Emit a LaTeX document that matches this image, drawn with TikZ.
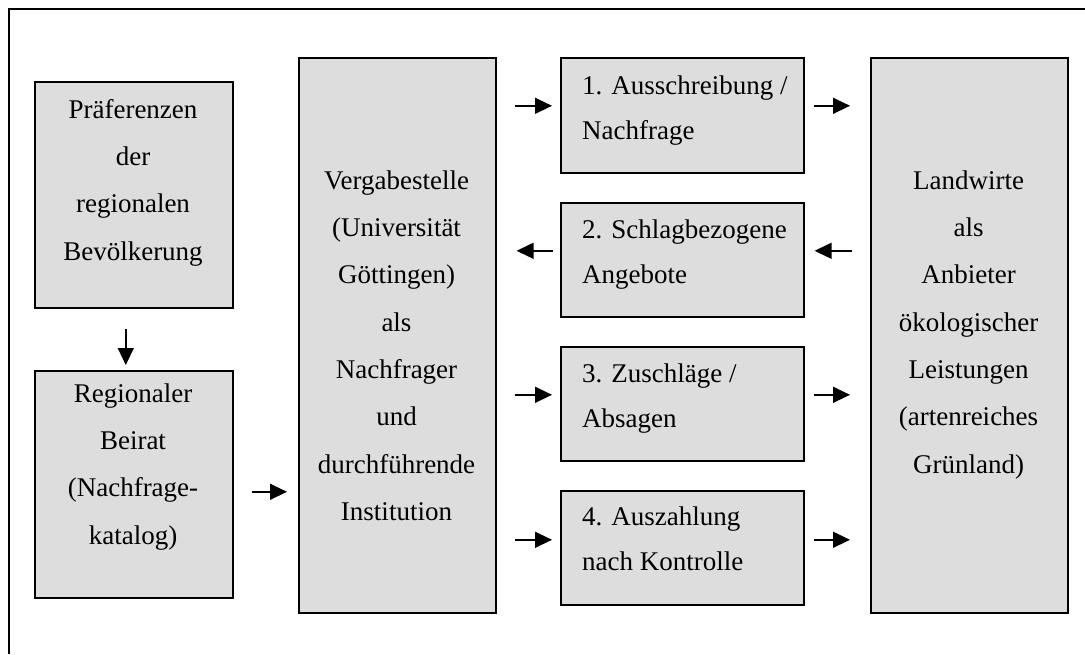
\documentclass[tikz,border=0pt]{standalone}
\usepackage{fontspec}
\setmainfont{Liberation Serif}
\usetikzlibrary{arrows.meta,calc}
\definecolor{boxgray}{HTML}{DDDDDD}
\begin{document}
\begin{tikzpicture}[x=1pt,y=-1pt,
  box/.style={draw=black,line width=1.6pt,fill=boxgray,rectangle,inner sep=0pt,anchor=north west},
  txt/.style={font=\fontsize{27}{47.3}\selectfont,align=center,inner sep=0pt,anchor=north},
  stxt/.style={font=\fontsize{27}{45.5}\selectfont,align=left,inner sep=0pt,anchor=north west},
  arr/.style={line width=1.4pt,-{Triangle[length=17pt,width=16pt]}},
  frame/.style={line width=1.5pt}]
\useasboundingbox (0,0) rectangle (1085,654);
% outer frame (top and left only)
\coordinate (fTL) at (9,9);
\coordinate (fTR) at (1085,9);
\coordinate (fBL) at (9,654);
\draw[frame] (fBL) -- (fTL) -- (fTR);
% boxes
\node[box,minimum width=198pt,minimum height=226pt] (A) at (34,81) {};
\node[box,minimum width=198pt,minimum height=227pt] (B) at (34,370) {};
\node[box,minimum width=197pt,minimum height=555pt] (C) at (298,57) {};
\node[box,minimum width=243pt,minimum height=115pt] (D1) at (560,57) {};
\node[box,minimum width=243pt,minimum height=114pt] (D2) at (560,202) {};
\node[box,minimum width=243pt,minimum height=114pt] (D3) at (560,346) {};
\node[box,minimum width=243pt,minimum height=114pt] (D4) at (560,490) {};
\node[box,minimum width=197pt,minimum height=555pt] (E) at (870,57) {};
% texts (first baseline = top + 20)
\node[txt] (tA) at (133,98) {\rule{0pt}{20pt}Präferenzen\\der\\regionalen\\Bevölkerung};
\node[txt] (tB) at (133,382) {\rule{0pt}{20pt}Regionaler\\Beirat\\(Nachfrage-\\katalog)};
\node[txt] (tC) at (396.5,169) {\rule{0pt}{20pt}Vergabestelle\\(Universität\\Göttingen)\\als\\Nachfrager\\und\\durchführende\\Institution};
\node[txt] (tE) at (968.5,169) {\rule{0pt}{20pt}Landwirte\\als\\Anbieter\\ökologischer\\Leistungen\\(artenreiches\\Grünland)};
\node[stxt] (t1) at (582,74) {\rule{0pt}{20pt}1. Ausschreibung /\\Nachfrage};
\node[stxt] (t2) at (582,218) {\rule{0pt}{20pt}2. Schlagbezogene\\Angebote};
\node[stxt] (t3) at (582,362) {\rule{0pt}{20pt}3. Zuschläge /\\Absagen};
\node[stxt] (t4) at (582,505) {\rule{0pt}{20pt}4. Auszahlung\\nach Kontrolle};
% arrow anchor points
\coordinate (ab) at ($(B.east)+(0,7.5)$);
\coordinate (a1) at ($(D1.west)+(0,-9.5)$);
\coordinate (a2) at ($(D2.west)+(0,-9)$);
\coordinate (a3) at ($(D3.west)+(0,-9)$);
\coordinate (a4) at ($(D4.west)+(0,-8)$);
\coordinate (b1) at ($(D1.east)+(0,-9.5)$);
\coordinate (b2) at ($(D2.east)+(0,-9)$);
\coordinate (b3) at ($(D3.east)+(0,-9)$);
\coordinate (b4) at ($(D4.east)+(0,-8)$);
% arrows
\draw[arr,shorten <=20pt,shorten >=5pt] ($(A.south)+(-8,0)$) -- ($(B.north)+(-8,0)$);
\draw[arr,shorten <=18pt,shorten >=11pt] (ab) -- (C.west |- ab);
\draw[arr,shorten <=18pt,shorten >=8pt] (C.east |- a1) -- (a1);
\draw[arr,shorten <=7pt,shorten >=20pt] (a2) -- (C.east |- a2);
\draw[arr,shorten <=18pt,shorten >=8pt] (C.east |- a3) -- (a3);
\draw[arr,shorten <=18pt,shorten >=8pt] (C.east |- a4) -- (a4);
\draw[arr,shorten <=9pt,shorten >=20pt] (b1) -- (E.west |- b1);
\draw[arr,shorten <=18pt,shorten >=10pt] (E.west |- b2) -- (b2);
\draw[arr,shorten <=9pt,shorten >=20pt] (b3) -- (E.west |- b3);
\draw[arr,shorten <=9pt,shorten >=20pt] (b4) -- (E.west |- b4);
\end{tikzpicture}
\end{document}
